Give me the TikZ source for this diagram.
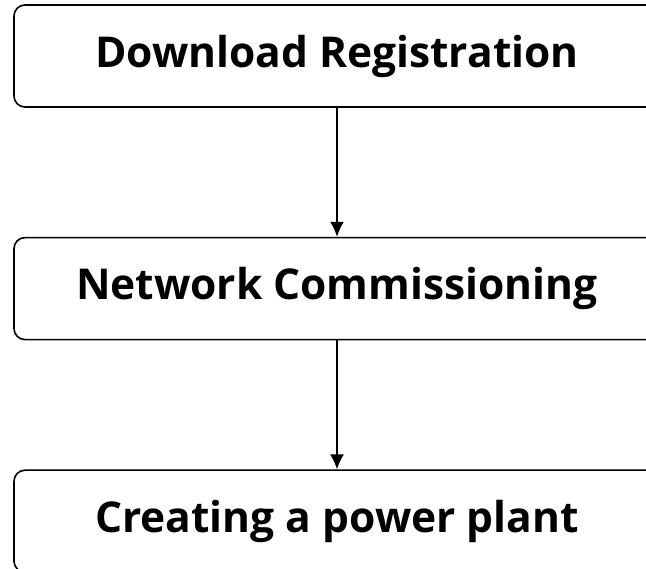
\documentclass[tikz,border=0pt]{standalone}
\usepackage{fontspec}
\setmainfont{Open Sans}
\usetikzlibrary{positioning, arrows.meta}

\begin{document}
\begin{tikzpicture}[
    x=1pt, y=-1pt,
    node distance=129pt,  % gap between the steps
    stepbox/.style = {draw, line width=1.6pt, rounded corners=11pt, minimum width=646pt,
      minimum height=102pt, font=\fontsize{42.5}{46}\selectfont\bfseries, inner sep=0pt},
    link/.style = {-{Latex[length=15pt,width=14pt]}, line width=1.8pt}
  ]
    \useasboundingbox (0,0) rectangle (646,569);
    \node[stepbox] (download) at (337,56) {Download Registration};
    \node[stepbox] (network) [below=of download] {Network Commissioning};
    \node[stepbox] (plant) [below=of network] {Creating a power plant};

    \draw[link] (download) -- (network);
    \draw[link] (network) -- (plant);
  \end{tikzpicture}
\end{document}
